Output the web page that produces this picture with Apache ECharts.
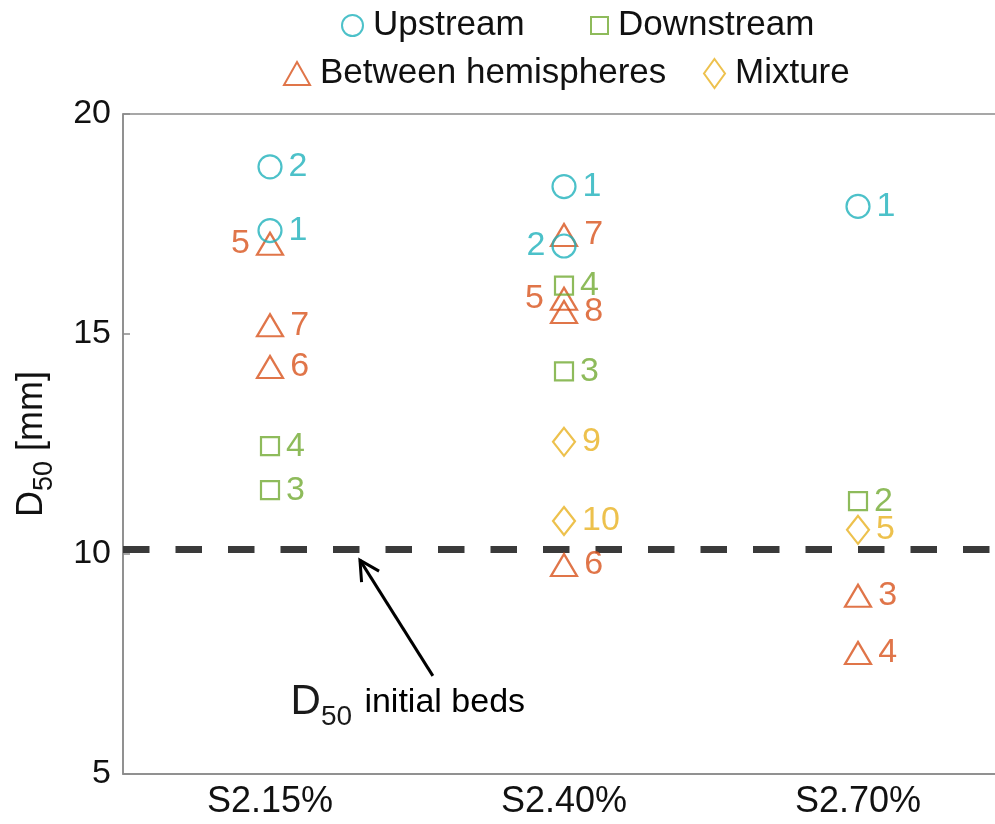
<!DOCTYPE html>
<html>
<head>
<meta charset="utf-8">
<script src="https://cdn.jsdelivr.net/npm/echarts@6/dist/echarts.min.js"></script>
<style>
  html, body { margin: 0; padding: 0; background: #fff; }
  #chart { width: 995px; height: 824px; }
</style>
</head>
<body>
<div id="chart"></div>
<script>
// Slope cases on the x axis
var categories = ['S2.15%', 'S2.40%', 'S2.70%'];
var yTicks = [5, 10, 15, 20];
var initialD50 = 10.1;

// Upstream samples
var upCats  = ['S2.15%', 'S2.15%', 'S2.40%', 'S2.40%', 'S2.70%'];
var upVals  = [18.8, 17.35, 18.35, 17.0, 17.9];
var upIds   = ['2', '1', '1', '2', '1'];
var upSide  = ['right', 'right', 'right', 'left', 'right'];

// Downstream samples
var downCats = ['S2.15%', 'S2.15%', 'S2.40%', 'S2.40%', 'S2.70%'];
var downVals = [12.45, 11.45, 16.1, 14.15, 11.2];
var downIds  = ['4', '3', '4', '3', '2'];
var downSide = ['right', 'right', 'right', 'right', 'right'];

// Samples taken between hemispheres
var betCats = ['S2.15%', 'S2.15%', 'S2.15%', 'S2.40%', 'S2.40%', 'S2.40%', 'S2.40%', 'S2.70%', 'S2.70%'];
var betVals = [17.05, 15.2, 14.25, 17.25, 15.8, 15.5, 9.75, 9.05, 7.75];
var betIds  = ['5', '7', '6', '7', '5', '8', '6', '3', '4'];
var betSide = ['left', 'right', 'right', 'right', 'left', 'right', 'right', 'right', 'right'];

// Mixture samples
var mixCats = ['S2.40%', 'S2.40%', 'S2.70%'];
var mixVals = [12.55, 10.75, 10.55];
var mixIds  = ['9', '10', '5'];
var mixSide = ['right', 'right', 'right'];

var FONT = '"Liberation Sans", Arial, Helvetica, sans-serif';
var COLORS = {
  up: '#1fb2bc',
  down: '#72aa32',
  bet: '#d8531b',
  mix: '#e8b121'
};

function buildPoints(cats, vals, ids, sides) {
  return vals.map(function (v, i) {
    return {
      name: ids[i],
      value: [cats[i], v],
      label: { position: sides[i] }
    };
  });
}

function scatterSeries(name, symbol, size, color, points, z) {
  return {
    name: name,
    type: 'scatter',
    xAxisIndex: 0,
    yAxisIndex: 0,
    symbol: symbol,
    symbolSize: size,
    z: z,
    itemStyle: { color: 'rgba(0,0,0,0)', borderColor: color, borderWidth: 2.2 },
    label: {
      show: true,
      formatter: '{b}',
      color: color,
      fontSize: 34,
      fontFamily: FONT,
      distance: 6
    },
    emphasis: { disabled: true },
    data: points
  };
}

function legendItem(name, icon, left, top, w, h) {
  return {
    data: [{ name: name, icon: icon }],
    left: left,
    top: top,
    itemWidth: w,
    itemHeight: h,
    selectedMode: false,
    textStyle: { fontSize: 35, fontFamily: FONT, color: '#111', padding: [0, 0, 0, 5] }
  };
}

var chart = echarts.init(document.getElementById('chart'), null, { renderer: 'canvas' });

var option = {
  backgroundColor: '#ffffff',
  animation: false,
  legend: [
    legendItem('Upstream', 'circle', 336, 3, 21, 21),
    legendItem('Downstream', 'rect', 585, 3, 17, 17),
    legendItem('Between hemispheres', 'triangle', 278, 51, 26, 23),
    legendItem('Mixture', 'diamond', 698, 51, 21, 29)
  ],
  grid: {
    left: 123, top: 114, width: 882, height: 660,
    outerBoundsMode: 'none',
    containLabel: false,
    show: true, borderColor: '#8a8a8a', borderWidth: 1.5,
    backgroundColor: 'rgba(0,0,0,0)'
  },
  xAxis: [{
    type: 'category',
    data: categories,
    axisLine: { lineStyle: { color: '#8a8a8a', width: 1.5 } },
    axisTick: { inside: true, alignWithLabel: true, length: 7, lineStyle: { color: '#8a8a8a', width: 1.5 } },
    axisLabel: { fontSize: 36, fontFamily: FONT, color: '#111', margin: 10 },
    splitLine: { show: false }
  }, {
    // helper scale for the annotation arrow and its caption
    type: 'value', min: 0, max: 3, show: false, gridIndex: 0
  }],
  yAxis: {
    type: 'value',
    min: yTicks[0], max: yTicks[yTicks.length - 1], interval: 5,
    name: 'D{s|50} [mm]',
    nameLocation: 'middle',
    nameGap: 65,
    nameRotate: 90,
    nameTextStyle: {
      fontSize: 36, fontFamily: FONT, color: '#111',
      rich: { s: { fontSize: 27, fontFamily: FONT, color: '#111', padding: [24, 0, 0, 0] } }
    },
    axisLine: { show: true, lineStyle: { color: '#8a8a8a', width: 1.5 } },
    axisTick: { show: true, inside: true, length: 7, lineStyle: { color: '#8a8a8a', width: 1.5 } },
    axisLabel: { fontSize: 34, fontFamily: FONT, color: '#111', margin: 12 },
    splitLine: { show: false }
  },
  series: [
    (function () {
      var s = scatterSeries('Upstream', 'circle', 23, COLORS.up, buildPoints(upCats, upVals, upIds, upSide), 5);
      s.markLine = {
        silent: true,
        symbol: ['none', 'none'],
        label: { show: false },
        lineStyle: { color: '#3a3a3a', width: 7, type: [26.5, 26], opacity: 1 },
        emphasis: { disabled: true },
        data: [{ yAxis: initialD50 }],
        z: 1
      };
      return s;
    })(),
    scatterSeries('Downstream', 'rect', 18, COLORS.down, buildPoints(downCats, downVals, downIds, downSide), 4),
    scatterSeries('Between hemispheres', 'triangle', [26, 22], COLORS.bet, buildPoints(betCats, betVals, betIds, betSide), 3),
    scatterSeries('Mixture', 'diamond', [22, 28], COLORS.mix, buildPoints(mixCats, mixVals, mixIds, mixSide), 3)
  ]
};

chart.setOption(option);

// Arrow pointing at the initial-bed D50 line, placed in axis units
var arrowTip = [0.806, 9.86];
var arrowTail = [1.054, 7.23];
var captionAt = [0.57, 6.62];

function toPx(p) {
  return chart.convertToPixel({ xAxisIndex: 1, yAxisIndex: 0 }, p);
}

var tip = toPx(arrowTip);
var tail = toPx(arrowTail);
var cap = toPx(captionAt);
var dx = tail[0] - tip[0], dy = tail[1] - tip[1];
var len = Math.sqrt(dx * dx + dy * dy);
var ux = dx / len, uy = dy / len;
var headLen = 22, ang = 28 * Math.PI / 180;
function rot(x, y, a) { return [x * Math.cos(a) - y * Math.sin(a), x * Math.sin(a) + y * Math.cos(a)]; }
var r1 = rot(ux, uy, ang), r2 = rot(ux, uy, -ang);

chart.setOption({
  graphic: [
    {
      type: 'polyline', silent: true, z: 10,
      shape: { points: [tail, tip] },
      style: { stroke: '#000', lineWidth: 3, fill: null }
    },
    {
      type: 'polyline', silent: true, z: 10,
      shape: { points: [
        [tip[0] + r1[0] * headLen, tip[1] + r1[1] * headLen],
        tip,
        [tip[0] + r2[0] * headLen, tip[1] + r2[1] * headLen]
      ] },
      style: { stroke: '#000', lineWidth: 3, fill: null, lineJoin: 'miter' }
    },
    {
      type: 'text', silent: true, z: 10,
      x: cap[0], y: cap[1],
      style: {
        text: '{d|D}{s|50} {t|initial beds}',
        align: 'left',
        verticalAlign: 'middle',
        rich: {
          d: { fontSize: 42, fontFamily: FONT, fill: '#1a1a1a' },
          s: { fontSize: 28, fontFamily: FONT, fill: '#1a1a1a', padding: [30, 0, 0, 0] },
          t: { fontSize: 34, fontFamily: FONT, fill: '#000', padding: [0, 0, 0, 9] }
        }
      }
    }
  ]
});
</script>
</body>
</html>
